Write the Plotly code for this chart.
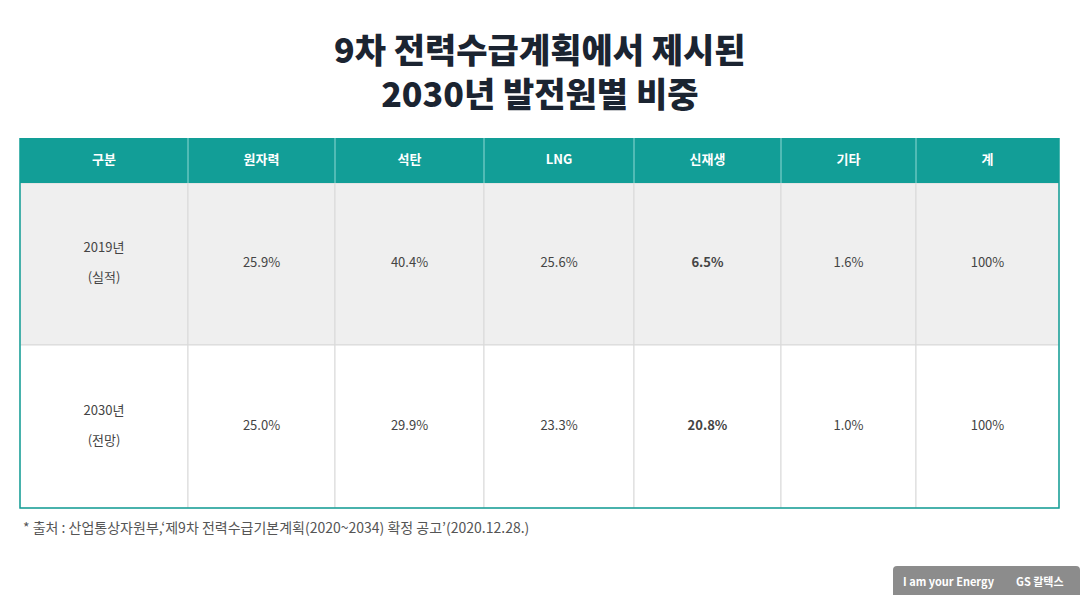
import plotly.graph_objects as go

# 표 데이터
columns = ["구분", "원자력", "석탄", "LNG", "신재생", "기타", "계"]
row_years = ["2019년", "2030년"]
row_notes = ["(실적)", "(전망)"]
share_2019 = ["25.9%", "40.4%", "25.6%", "6.5%", "1.6%", "100%"]
share_2030 = ["25.0%", "29.9%", "23.3%", "20.8%", "1.0%", "100%"]
bold_col = "신재생"

# 레이아웃 (픽셀)
W, H = 1080, 595
col_widths = [168, 147, 149, 150, 147, 135, 143]
L, T = 20, 138
header_h = 45
row_h = [162, 163]
row_fill = ["#efefef", "#ffffff"]
TEAL = "#129e97"
FONT = "Noto Sans CJK KR"

edges = [L]
for w in col_widths:
    edges.append(edges[-1] + w)
centers = [(edges[i] + edges[i + 1]) / 2 for i in range(len(col_widths))]
row_top = [T + header_h, T + header_h + row_h[0]]
R = edges[-1]
B = row_top[-1] + row_h[-1]

shapes = []
# 본문 셀
for r in range(len(row_h)):
    for c in range(len(col_widths)):
        shapes.append(dict(type="rect", xref="x", yref="y", layer="below",
                           x0=edges[c], x1=edges[c + 1], y0=row_top[r], y1=row_top[r] + row_h[r],
                           fillcolor=row_fill[r], line=dict(color="#d9d9d9", width=1)))
# 헤더
shapes.append(dict(type="rect", xref="x", yref="y", layer="below",
                   x0=L, x1=R, y0=T, y1=T + header_h, fillcolor=TEAL, line=dict(width=0)))
for e in edges[1:-1]:
    shapes.append(dict(type="line", xref="x", yref="y", layer="below",
                       x0=e, x1=e, y0=T, y1=T + header_h, line=dict(color="#8fd8d3", width=1)))
# 바깥 테두리
shapes.append(dict(type="path", xref="x", yref="y", layer="below",
                   path=f"M {L} {T} L {L} {B} L {R} {B} L {R} {T}",
                   line=dict(color=TEAL, width=1.5)))
# 로고 박스
shapes.append(dict(type="path", xref="x", yref="y", layer="below",
                   path="M 893 600 L 893 570 Q 893 566 897 566 L 1076 566 Q 1080 566 1080 570 L 1080 600 Z",
                   fillcolor="#8c8c8c", line=dict(width=0)))

fig = go.Figure()

# 헤더 텍스트
fig.add_trace(go.Scatter(
    x=centers, y=[T + header_h / 2] * len(columns),
    text=["<b>" + c + "</b>" for c in columns],
    mode="text", textfont=dict(color="white", size=13, family=FONT),
    hoverinfo="skip", showlegend=False))

# 본문 텍스트
xs, ys, ts = [], [], []
for r, vals in enumerate([share_2019, share_2030]):
    cy = row_top[r] + row_h[r] / 2
    xs += [centers[0], centers[0]]
    ys += [cy - 15, cy + 15]
    ts += [row_years[r], row_notes[r]]
    for i, v in enumerate(vals):
        xs.append(centers[i + 1])
        ys.append(cy)
        ts.append("<b>" + v + "</b>" if columns[i + 1] == bold_col else v)

fig.add_trace(go.Scatter(
    x=xs, y=ys, text=ts, mode="text",
    textfont=dict(color="#444444", size=13, family=FONT),
    hoverinfo="skip", showlegend=False))

fig.add_annotation(text="9차 전력수급계획에서 제시된<br>2030년 발전원별 비중",
                   x=540, y=70, xref="x", yref="y", yanchor="middle",
                   showarrow=False, align="center",
                   font=dict(size=34, color="#1b2431", family=FONT, weight=900))

fig.add_annotation(text="* 출처 : 산업통상자원부,‘제9차 전력수급기본계획(2020~2034) 확정 공고’(2020.12.28.)",
                   x=21, y=527, xref="x", yref="y", xanchor="left", yanchor="middle",
                   showarrow=False, font=dict(size=14, color="#555555", family=FONT))

fig.add_annotation(text="<b>I am your Energy</b>", x=949, y=581, xref="x", yref="y",
                   showarrow=False, font=dict(size=11, color="white", family=FONT))
fig.add_annotation(text="<b>GS 칼텍스</b>", x=1040, y=581, xref="x", yref="y",
                   showarrow=False, font=dict(size=11, color="white", family=FONT))

fig.update_layout(width=W, height=H, margin=dict(l=0, r=0, t=0, b=0),
                  paper_bgcolor="white", plot_bgcolor="white", shapes=shapes,
                  xaxis=dict(range=[0, W], visible=False, fixedrange=True),
                  yaxis=dict(range=[H, 0], visible=False, fixedrange=True))

fig.write_html("out.html", config={"displayModeBar": False},
               post_script="document.body.style.margin='0';")
